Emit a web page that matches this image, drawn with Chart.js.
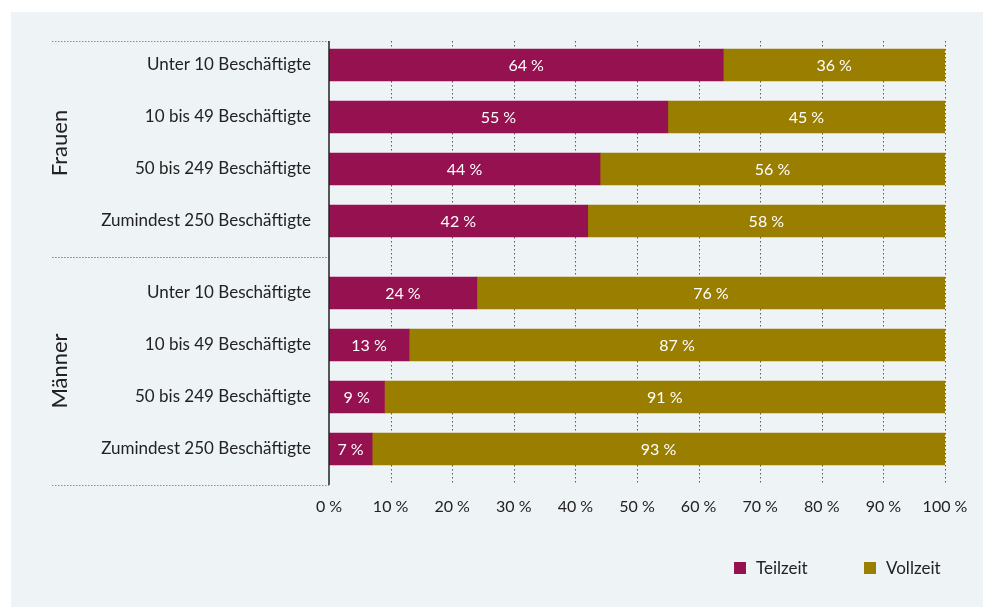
<!DOCTYPE html>
<html><head><meta charset="utf-8">
<script src="https://cdn.jsdelivr.net/npm/chart.js@4.4.1/dist/chart.umd.min.js"></script>
<style>
html,body{margin:0;padding:0;background:#fff;}
#wrap{position:relative;width:983px;height:607px;overflow:hidden;}
#panel{position:absolute;left:11px;top:12px;right:0;bottom:0;background:#eef3f6;}
canvas{position:absolute;left:0;top:0;}
#legend{position:absolute;left:734px;top:558px;display:flex;font-family:Lato,sans-serif;font-size:17px;color:#222;line-height:20px;}
.item{display:flex;align-items:center;}
.item:first-child{width:130px;}
.sw{width:12px;height:12px;margin-right:10px;}
</style></head>
<body>
<div id="wrap">
  <div id="panel"></div>
  <canvas id="cF" width="983" height="607"></canvas>
  <canvas id="cM" width="983" height="607"></canvas>
  <div id="legend"></div>
</div>
<script>
// ---- data ----
const categories = ['Unter 10 Beschäftigte', '10 bis 49 Beschäftigte', '50 bis 249 Beschäftigte', 'Zumindest 250 Beschäftigte'];
const groups = ['Frauen', 'Männer'];
const seriesNames = ['Teilzeit', 'Vollzeit'];
const frauenTeilzeit = [64, 55, 44, 42];
const frauenVollzeit = [36, 45, 56, 58];
const maennerTeilzeit = [24, 13, 9, 7];
const maennerVollzeit = [76, 87, 91, 93];
const xTickValues = [0, 10, 20, 30, 40, 50, 60, 70, 80, 90, 100];

// ---- style ----
const COLORS = ['#96114f', '#9a7e00'];
const FONT = 'Lato';
const TEXT = '#222222';
const AXIS_X = 329;
const SECTION_LINES = [41, 257, 485];

function pct(v) { return v + ' %'; }

function decorPlugin(sectionTop, sectionBottom, groupLabel) {
  return {
    id: 'decor',
    beforeDatasetsDraw(chart) {
      const ctx = chart.ctx;
      const xs = chart.scales.x;
      ctx.save();
      ctx.strokeStyle = '#5a5a5a';
      ctx.lineWidth = 1;
      ctx.setLineDash([1.5, 2.5]);
      xTickValues.forEach(v => {
        if (v === 0) return;
        const px = Math.round(xs.getPixelForValue(v)) + 0.5;
        ctx.beginPath();
        ctx.moveTo(px, sectionTop);
        ctx.lineTo(px, sectionBottom);
        ctx.stroke();
      });
      ctx.strokeStyle = '#8f8f8f';
      ctx.setLineDash([1.5, 1.5]);
      [sectionTop, sectionBottom].forEach(y => {
        ctx.beginPath();
        ctx.moveTo(52, Math.round(y) + 0.5);
        ctx.lineTo(AXIS_X, Math.round(y) + 0.5);
        ctx.stroke();
      });
      ctx.restore();
    },
    afterDatasetsDraw(chart) {
      const ctx = chart.ctx;
      const area = chart.chartArea;
      ctx.save();
      ctx.strokeStyle = '#222';
      ctx.lineWidth = 1.5;
      ctx.setLineDash([]);
      ctx.beginPath();
      ctx.moveTo(area.left, sectionTop);
      ctx.lineTo(area.left, sectionBottom);
      ctx.stroke();
      ctx.fillStyle = '#ffffff';
      ctx.font = '16px ' + FONT;
      ctx.textAlign = 'center';
      ctx.textBaseline = 'middle';
      chart.data.datasets.forEach((ds, i) => {
        const meta = chart.getDatasetMeta(i);
        meta.data.forEach((el, j) => {
          const cx = (el.x + el.base) / 2;
          ctx.fillText(pct(ds.data[j]), cx, el.y + 1);
        });
      });
      ctx.fillStyle = TEXT;
      ctx.font = '22px ' + FONT;
      ctx.translate(60, (area.top + area.bottom) / 2);
      ctx.rotate(-Math.PI / 2);
      ctx.fillText(groupLabel, 0, 0);
      ctx.restore();
    }
  };
}

function makeChart(id, tData, vData, groupLabel, sectionTop, sectionBottom, withXAxis, padTop) {
  return new Chart(document.getElementById(id), {
    type: 'bar',
    data: {
      labels: categories,
      datasets: [
        { label: seriesNames[0], data: tData, backgroundColor: COLORS[0], borderWidth: 0, barThickness: 32 },
        { label: seriesNames[1], data: vData, backgroundColor: COLORS[1], borderWidth: 0, barThickness: 32 }
      ]
    },
    options: {
      indexAxis: 'y',
      responsive: false,
      animation: false,
      events: [],
      layout: { padding: { top: padTop, right: 38, left: 0, bottom: withXAxis ? 0 : 607 - 247 } },
      plugins: { legend: { display: false }, tooltip: { enabled: false } },
      scales: {
        x: {
          stacked: true, min: 0, max: 100,
          display: withXAxis,
          grid: { display: false, drawTicks: true, tickLength: 22 },
          border: { display: false },
          afterBuildTicks: s => { s.ticks = xTickValues.map(v => ({ value: v })); },
          afterFit: s => { s.height = withXAxis ? 132 : 0; },
          ticks: { autoSkip: false, maxRotation: 0, padding: 0, color: TEXT, font: { family: FONT, size: 16 }, callback: v => pct(v) }
        },
        y: {
          stacked: true,
          grid: { display: false, drawTicks: false },
          border: { display: false },
          afterFit: s => { s.width = AXIS_X; },
          ticks: { padding: 18, color: TEXT, font: { family: FONT, size: 17 } }
        }
      }
    },
    plugins: [decorPlugin(sectionTop, sectionBottom, groupLabel)]
  });
}

const chartF = makeChart('cF', frauenTeilzeit, frauenVollzeit, groups[0], SECTION_LINES[0], SECTION_LINES[1], false, 39);
const chartM = makeChart('cM', maennerTeilzeit, maennerVollzeit, groups[1], SECTION_LINES[1], SECTION_LINES[2], true, 267);

const legend = document.getElementById('legend');
chartM.data.datasets.forEach(ds => {
  const item = document.createElement('div');
  item.className = 'item';
  const sw = document.createElement('span');
  sw.className = 'sw';
  sw.style.background = ds.backgroundColor;
  const tx = document.createElement('span');
  tx.textContent = ds.label;
  item.appendChild(sw);
  item.appendChild(tx);
  legend.appendChild(item);
});
</script>
</body></html>
